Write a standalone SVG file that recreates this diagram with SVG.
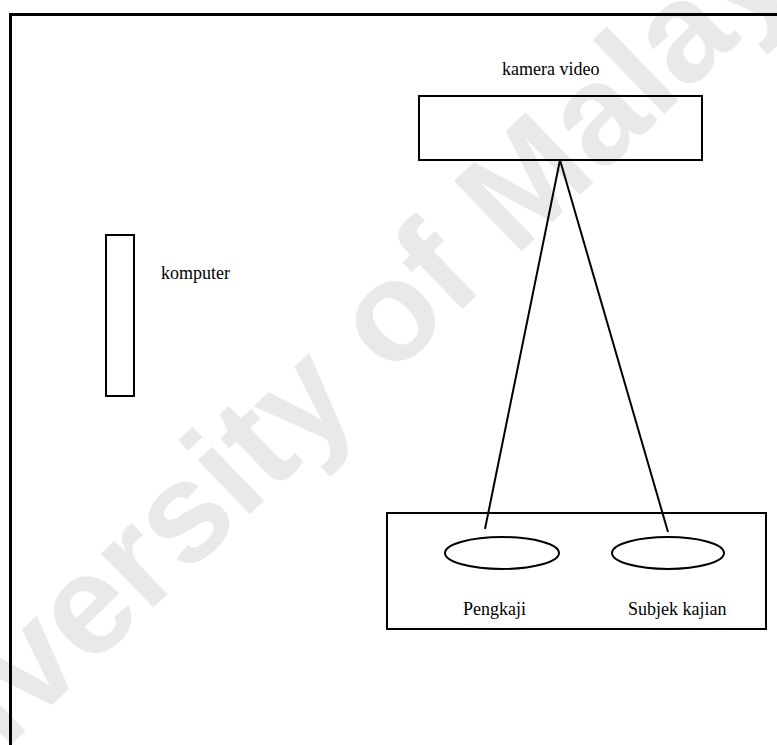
<svg xmlns="http://www.w3.org/2000/svg" width="777" height="745" viewBox="0 0 777 745">
<style>
.ln{fill:none;stroke:#000;stroke-width:2}
.lb{font-family:"Liberation Serif","Times New Roman",serif;font-size:18px;fill:#000}
.wm{font-family:"Liberation Sans",Arial,sans-serif;font-weight:bold;font-size:142px;fill:#e9e9e9}
</style>
<rect width="777" height="745" fill="#fff"/>
<g id="watermark"><text class="wm" transform="translate(-132,883) rotate(-44)">University of Malaya</text></g>
<g id="frame"><path d="M10.5,745 V14.5 H777" fill="none" stroke="#000" stroke-width="3"/></g>
<g id="connectors">
<line class="ln" x1="560" y1="160" x2="485" y2="529"/>
<line class="ln" x1="560" y1="160" x2="668" y2="532"/>
</g>
<g id="camera">
<rect class="ln" x="419" y="96" width="283" height="64"/>
<text class="lb" x="502" y="75">kamera video</text>
</g>
<g id="computer">
<rect class="ln" x="106" y="235" width="28" height="161"/>
<text class="lb" x="161" y="279">komputer</text>
</g>
<g id="room">
<rect class="ln" x="387" y="513" width="379" height="116"/>
</g>
<g id="pengkaji">
<ellipse class="ln" cx="502" cy="553" rx="57" ry="16"/>
<text class="lb" x="463" y="615">Pengkaji</text>
</g>
<g id="subjek">
<ellipse class="ln" cx="668" cy="553" rx="56" ry="16"/>
<text class="lb" x="628" y="615">Subjek kajian</text>
</g>
</svg>
